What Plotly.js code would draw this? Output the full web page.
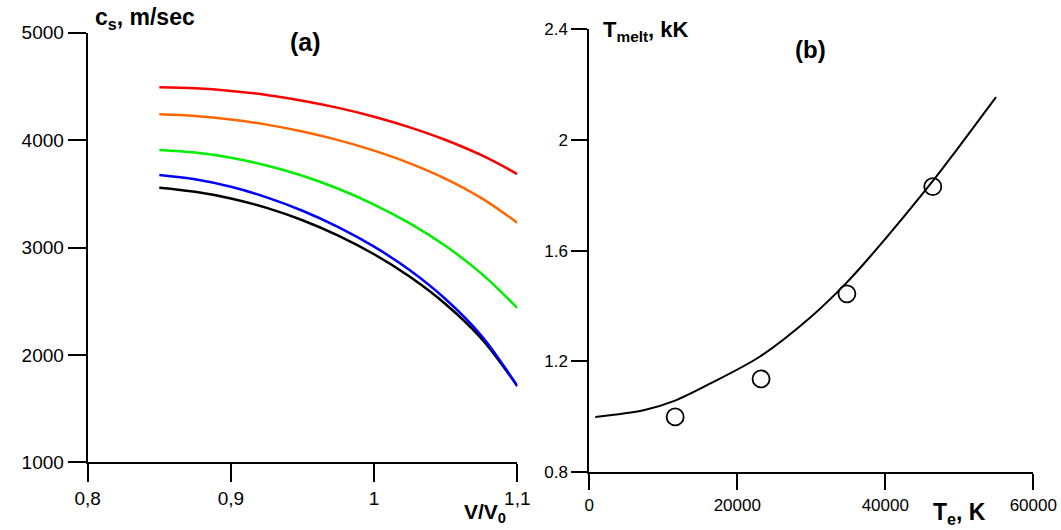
<!DOCTYPE html>
<html>
<head>
<meta charset="utf-8">
<script src="https://cdn.plot.ly/plotly-3.0.1.min.js"></script>
<style>
  html, body { margin: 0; padding: 0; background: #fff; }
  #chart { width: 1061px; height: 530px; }
</style>
</head>
<body>
<div id="chart"></div>
<script>
// Panel (a): sound speed c_s (m/sec) versus relative volume V/V0
const volumeRatio = [0.85, 0.875, 0.9, 0.925, 0.95, 0.975, 1.0, 1.025, 1.05, 1.075, 1.1];
const speedRed    = [4492, 4482, 4458, 4420, 4367, 4300, 4218, 4119, 4001, 3859, 3684];
const speedOrange = [4240, 4224, 4192, 4144, 4080, 4000, 3902, 3784, 3640, 3460, 3231];
const speedGreen  = [3908, 3884, 3836, 3764, 3668, 3547, 3400, 3224, 3013, 2757, 2437];
const speedBlue   = [3675, 3635, 3565, 3467, 3342, 3190, 3008, 2788, 2518, 2178, 1710];
const speedBlack  = [3557, 3519, 3457, 3369, 3254, 3111, 2937, 2727, 2472, 2152, 1710];

// Panel (b): melting temperature (kK) versus electron temperature (K)
const electronTemp = [800, 7340, 11490, 16310, 23070, 29820, 34680, 37930, 46700, 49650, 54960];
const meltTemp     = [1.0, 1.024, 1.058, 1.12, 1.218, 1.358, 1.482, 1.578, 1.861, 1.964, 2.154];
const pointTemp    = [11604, 23209, 34813, 46418];
const pointMelt    = [1.0, 1.137, 1.444, 1.831];

// Tick values and labels
const xTicksA = [0.8, 0.9, 1.0, 1.1];
const xLabelsA = ['0,8', '0,9', '1', '1,1'];
const yTicksA = [1000, 2000, 3000, 4000, 5000];
const yLabelsA = ['1000', '2000', '3000', '4000', '5000'];
const xTicksB = [0, 20000, 40000, 60000];
const xLabelsB = ['0', '20000', '40000', '60000'];
const yTicksB = [0.8, 1.2, 1.6, 2.0, 2.4];
const yLabelsB = ['0.8', '1.2', '1.6', '2', '2.4'];

const FONT = 'Liberation Sans, Arial, Helvetica, sans-serif';
const W = 1061, H = 530;

function curve(y, color) {
  return {
    x: volumeRatio, y: y, xaxis: 'x', yaxis: 'y',
    type: 'scatter', mode: 'lines',
    line: { color: color, width: 2.5, shape: 'spline', smoothing: 1.0 },
    hoverinfo: 'skip'
  };
}

const traces = [
  curve(speedRed, '#ff0000'),
  curve(speedOrange, '#ff6600'),
  curve(speedGreen, '#00ee00'),
  curve(speedBlack, '#000000'),
  curve(speedBlue, '#0000ff'),
  {
    x: electronTemp, y: meltTemp, xaxis: 'x2', yaxis: 'y2',
    type: 'scatter', mode: 'lines',
    line: { color: '#000', width: 2, shape: 'spline', smoothing: 0.9 }
  },
  {
    x: pointTemp, y: pointMelt, xaxis: 'x2', yaxis: 'y2',
    type: 'scatter', mode: 'markers',
    marker: { symbol: 'circle-open', size: 17, color: '#000', line: { width: 1.8, color: '#000' } }
  }
];

function axis(domain, range, tv, tt, anchor, len, fs) {
  return {
    domain: domain, range: range, anchor: anchor,
    tickmode: 'array', tickvals: tv, ticktext: tt,
    ticks: 'outside', ticklen: len, tickwidth: 2, tickcolor: '#000',
    showline: true, linewidth: 2, linecolor: '#000',
    showgrid: false, zeroline: false,
    tickfont: { family: FONT, size: fs, color: '#000' }
  };
}

const px = v => v / W;
const py = v => 1 - v / H;

function label(text, x, y, size, anchor) {
  return {
    text: text, x: px(x), y: py(y), xref: 'paper', yref: 'paper',
    xanchor: anchor, yanchor: 'middle', showarrow: false,
    font: { family: FONT, size: size, color: '#000' }
  };
}

const layout = {
  width: W, height: H,
  margin: { l: 0, r: 0, t: 0, b: 0 },
  paper_bgcolor: '#fff', plot_bgcolor: '#fff',
  showlegend: false,
  font: { family: FONT, color: '#000' },
  xaxis: axis([px(87.7), px(517.3)], [0.8, 1.1], xTicksA, xLabelsA, 'y', 18, 19),
  yaxis: axis([py(462.3), py(32.7)], [1000, 5000], yTicksA, yLabelsA, 'x', 18, 19),
  xaxis2: axis([px(589.3), px(1033.3)], [0, 60000], xTicksB, xLabelsB, 'y2', 16, 17),
  yaxis2: axis([py(472.3), py(29)], [0.8, 2.4], yTicksB, yLabelsB, 'x2', 16, 17),
  annotations: [
    label('<b>c<sub>s</sub>, m/sec</b>', 93, 19, 23, 'left'),
    label('<b>(a)</b>', 305, 42, 25, 'center'),
    label('<b>V/V<sub>0</sub></b>', 462, 513, 21, 'left'),
    label('<b>T<sub>melt</sub>, kK</b>', 601, 31, 22, 'left'),
    label('<b>(b)</b>', 810, 50, 24, 'center'),
    label('<b>T<sub>e</sub>, K</b>', 931, 513, 23, 'left')
  ]
};

Plotly.newPlot('chart', traces, layout, { staticPlot: true, displayModeBar: false });
</script>
</body>
</html>
